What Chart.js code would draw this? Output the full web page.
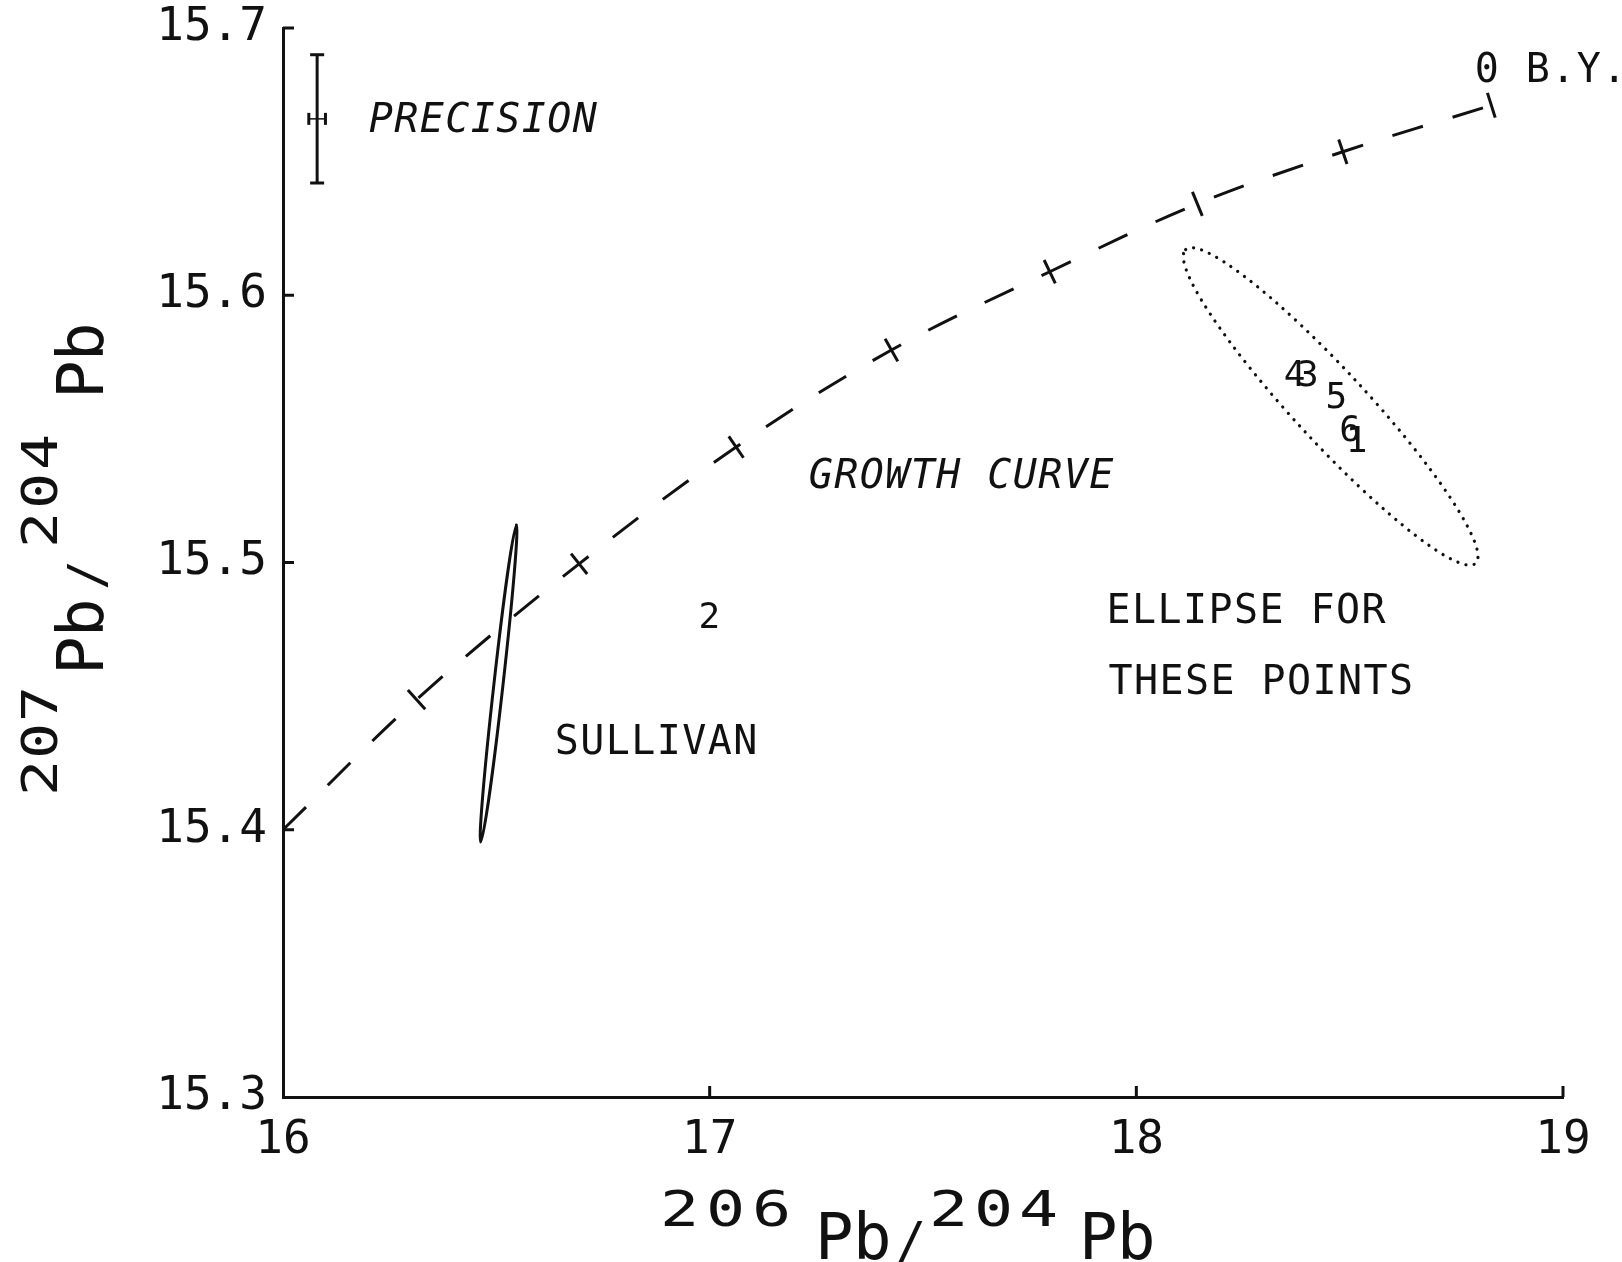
<!DOCTYPE html>
<html>
<head>
<meta charset="utf-8">
<script src="https://cdn.jsdelivr.net/npm/chart.js@4.4.1/dist/chart.umd.min.js"></script>
<style>
  html, body { margin: 0; padding: 0; background: #fff; }
  canvas { display: block; }
</style>
</head>
<body>
<canvas id="chart_div" width="1622" height="1262"></canvas>
<script>
const xTicks = [16, 17, 18, 19];
const yTicks = [15.3, 15.4, 15.5, 15.6, 15.7];

// growth curve: starts on the axis, then one mark per step up to 0 B.Y.
const curve206 = [16.0, 16.313, 16.694, 17.062, 17.426, 17.797, 18.143, 18.484, 18.832];
const curve207 = [15.400, 15.4487, 15.4995, 15.5432, 15.5795, 15.6088, 15.6342, 15.6537, 15.6711];

// numbered samples
const sampleIds = ['1', '2', '3', '4', '5', '6'];
const sample206 = [18.516, 16.999, 18.402, 18.371, 18.469, 18.501];
const sample207 = [15.545, 15.479, 15.5695, 15.5695, 15.5614, 15.549];

// precision bar
const precision206 = [16.080];
const precision207 = [15.666];
const precisionErr206 = [0.0195];
const precisionErr207 = [0.024];

// ellipses: centre, end of long axis, end of short axis
const sullivanEllipse = [[16.5052, 15.4547], [16.547, 15.514], [16.5158, 15.4545]];
const pointsEllipse = [[18.4554, 15.5584], [18.1156, 15.6171], [18.517, 15.5676]];

const FONT = "'DejaVu Sans Mono', monospace";
const INK = '#111';

const curveData = curve206.map((v, i) => ({x: v, y: curve207[i]}));
const markData = curveData.slice(1);

function markRotation(ctx) {
  const chart = ctx.chart;
  const i = ctx.dataIndex + 1;
  const a = Math.max(i - 1, 0), b = Math.min(i + 1, curve206.length - 1);
  const sx = chart.scales.x, sy = chart.scales.y;
  const dx = sx.getPixelForValue(curve206[b]) - sx.getPixelForValue(curve206[a]);
  const dy = sy.getPixelForValue(curve207[b]) - sy.getPixelForValue(curve207[a]);
  return Math.atan2(dy, dx) * 180 / Math.PI + 90;
}

// one character at a time, optionally stretched sideways like the plotter font
function drawSpaced(ctx, text, x, y, adv, stretch) {
  const k = stretch || 1;
  for (let i = 0; i < text.length; i++) {
    ctx.save();
    ctx.translate(x + i * adv, y);
    ctx.scale(k, 1);
    ctx.fillText(text[i], 0, 0);
    ctx.restore();
  }
}

// ellipses drawn through the scales
const ellipsePlugin = {
  id: 'ellipses',
  afterDatasetsDraw(chart) {
    const {ctx, scales: {x, y}} = chart;
    const px = p => [x.getPixelForValue(p[0]), y.getPixelForValue(p[1])];
    const draw = (e, dash, width) => {
      const c = px(e[0]), a = px(e[1]), b = px(e[2]);
      const ra = Math.hypot(a[0] - c[0], a[1] - c[1]);
      const rb = Math.hypot(b[0] - c[0], b[1] - c[1]);
      const ang = Math.atan2(a[1] - c[1], a[0] - c[0]);
      ctx.save();
      ctx.beginPath();
      ctx.setLineDash(dash);
      ctx.lineWidth = width;
      ctx.lineCap = 'round';
      ctx.strokeStyle = INK;
      ctx.ellipse(c[0], c[1], ra, rb, ang, 0, Math.PI * 2);
      ctx.stroke();
      ctx.restore();
    };
    draw(sullivanEllipse, [], 3);
    draw(pointsEllipse, [0.1, 8.3], 3.2);
  }
};

// numerals for samples, inward ticks, notes and axis titles
const textPlugin = {
  id: 'texts',
  afterDraw(chart) {
    const {ctx, chartArea: area, scales: {x, y}} = chart;
    ctx.save();
    ctx.fillStyle = INK;
    ctx.strokeStyle = INK;

    // inward tick marks
    ctx.lineWidth = 3;
    ctx.beginPath();
    yTicks.slice(1).forEach(v => {
      const p = y.getPixelForValue(v);
      ctx.moveTo(area.left, p); ctx.lineTo(area.left + 11, p);
    });
    xTicks.slice(1).forEach(v => {
      const p = x.getPixelForValue(v);
      ctx.moveTo(p, area.bottom); ctx.lineTo(p, area.bottom - 11);
    });
    ctx.stroke();

    // sample numbers
    ctx.font = '36px ' + FONT;
    ctx.textAlign = 'center';
    ctx.textBaseline = 'middle';
    sampleIds.forEach((id, i) => {
      ctx.fillText(id, x.getPixelForValue(sample206[i]), y.getPixelForValue(sample207[i]));
    });

    // notes
    ctx.textAlign = 'left';
    ctx.textBaseline = 'alphabetic';
    const notes = [
      ['PRECISION', 16.201, 15.6612, true],
      ['GROWTH CURVE', 17.232, 15.5278, true],
      ['SULLIVAN', 16.637, 15.4285, false],
      ['ELLIPSE FOR', 17.930, 15.4774, false],
      ['THESE POINTS', 17.935, 15.4507, false],
      ['0 B.Y.', 18.793, 15.6798, false]
    ];
    notes.forEach(([t, nx, ny, it]) => {
      ctx.font = (it ? 'italic ' : '') + '40px ' + FONT;
      drawSpaced(ctx, t, x.getPixelForValue(nx), y.getPixelForValue(ny), 25.5);
    });

    // x axis title: 206Pb/204Pb
    ctx.font = '50px ' + FONT;
    drawSpaced(ctx, '206', 660, 1226, 46, 1.3);
    drawSpaced(ctx, '204', 929, 1226, 45, 1.3);
    ctx.fillText('/', 896, 1257);
    ctx.font = '64px ' + FONT;
    drawSpaced(ctx, 'Pb', 815, 1259, 38);
    drawSpaced(ctx, 'Pb', 1079, 1259, 38);

    // y axis title, rotated
    ctx.translate(103, 796);
    ctx.rotate(-Math.PI / 2);
    ctx.font = '50px ' + FONT;
    drawSpaced(ctx, '207', 0, -46, 37, 1.2);
    drawSpaced(ctx, '204', 248, -46, 39, 1.2);
    ctx.fillText('/', 206, 0);
    ctx.font = '64px ' + FONT;
    drawSpaced(ctx, 'Pb', 121, 0, 38);
    drawSpaced(ctx, 'Pb', 397, 0, 38);
    ctx.restore();
  }
};

new Chart(document.getElementById('chart_div'), {
  type: 'scatter',
  data: {
    datasets: [
      {
        label: 'Growth curve',
        type: 'line',
        data: curveData,
        borderColor: INK,
        borderWidth: 3,
        borderDash: [32, 31],
        tension: 0.35,
        pointRadius: 0,
        fill: false
      },
      {
        label: 'Curve marks',
        data: markData,
        pointStyle: 'line',
        pointRadius: 13,
        pointBorderWidth: 3,
        borderColor: INK,
        rotation: markRotation
      },
      {
        label: 'Precision 207',
        type: 'line',
        data: [
          {x: precision206[0], y: precision207[0] - precisionErr207[0]},
          {x: precision206[0], y: precision207[0] + precisionErr207[0]}
        ],
        borderColor: INK,
        borderWidth: 3,
        pointStyle: 'line',
        pointRadius: 7,
        pointBorderWidth: 3
      },
      {
        label: 'Precision 206',
        type: 'line',
        data: [
          {x: precision206[0] - precisionErr206[0], y: precision207[0]},
          {x: precision206[0] + precisionErr206[0], y: precision207[0]}
        ],
        borderColor: INK,
        borderWidth: 1.5,
        pointStyle: 'line',
        rotation: 90,
        pointRadius: 6,
        pointBorderWidth: 3
      },
      {
        label: 'Samples',
        data: sample206.map((v, i) => ({x: v, y: sample207[i]})),
        pointRadius: 0
      }
    ]
  },
  options: {
    responsive: false,
    animation: false,
    devicePixelRatio: 1,
    layout: { padding: { top: 28, right: 59, left: 0, bottom: 0 } },
    plugins: {
      legend: { display: false },
      tooltip: { enabled: false }
    },
    scales: {
      x: {
        type: 'linear',
        min: 16,
        max: 19,
        afterBuildTicks: s => { s.ticks = xTicks.map(v => ({value: v})); },
        afterFit: s => { s.height = 165; s.paddingLeft = 0; s.paddingRight = 0; },
        grid: { display: false, drawTicks: false, tickLength: 0 },
        border: { display: true, color: INK, width: 3 },
        ticks: {
          color: INK,
          padding: 16,
          font: { family: FONT, size: 46 },
          callback: v => String(v)
        }
      },
      y: {
        type: 'linear',
        min: 15.3,
        max: 15.7,
        afterBuildTicks: s => { s.ticks = yTicks.map(v => ({value: v})); },
        afterFit: s => { s.width = 283; s.paddingTop = 0; s.paddingBottom = 0; },
        grid: { display: false, drawTicks: false, tickLength: 0 },
        border: { display: true, color: INK, width: 3 },
        ticks: {
          color: INK,
          padding: 16,
          font: { family: FONT, size: 46 },
          callback: v => v.toFixed(1)
        }
      }
    }
  },
  plugins: [ellipsePlugin, textPlugin]
});
</script>
</body>
</html>
